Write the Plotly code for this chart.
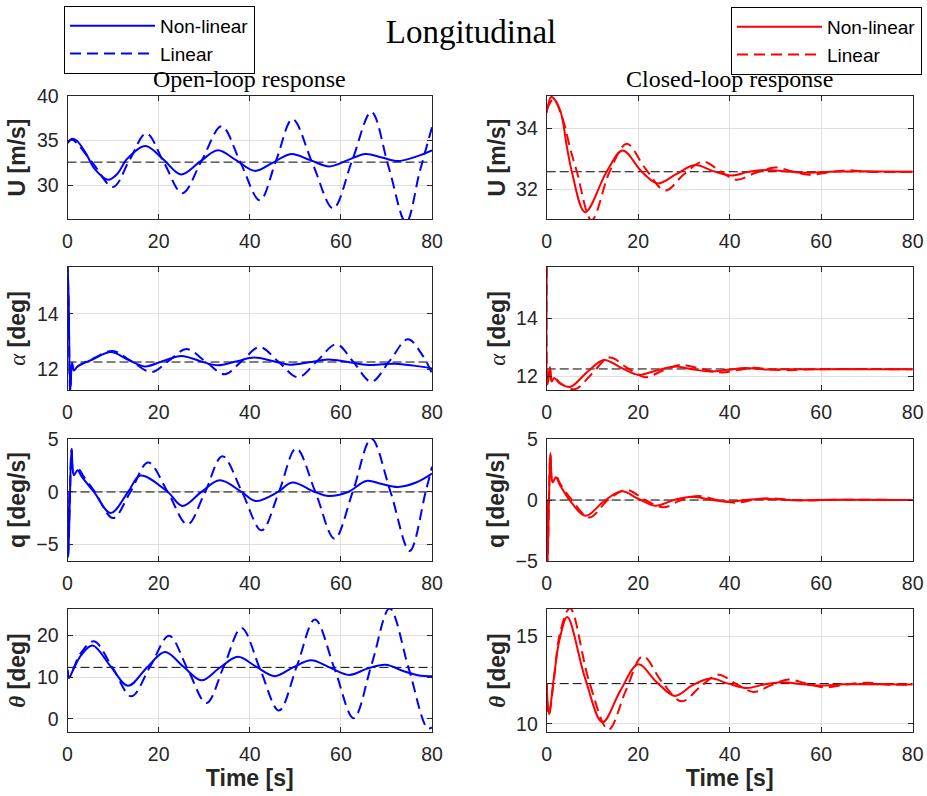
import plotly.graph_objects as go

# ---------------- data ----------------
# Open-loop, U [m/s]
u_ol_nl_t = [0, 1.0, 2, 4, 6, 8.9, 11, 13, 17.1, 21, 24.9, 29, 33, 37, 41.1, 45, 49.1, 53.3, 57.5, 61.5, 65.4, 69, 72.5, 76.5, 80]
u_ol_nl = [34.7, 35.2, 35.0, 33.6, 31.8, 30.6, 31.3, 32.9, 34.4, 32.9, 31.2, 32.6, 33.9, 32.8, 31.6, 32.5, 33.5, 32.8, 32.1, 32.8, 33.5, 33.1, 32.7, 33.2, 33.9]
u_ol_l_t = [0, 1, 5.5, 10, 13.6, 17.3, 21.2, 25.2, 29.5, 33.8, 38, 42.2, 45.8, 49.4, 53.8, 58.3, 62.5, 66.7, 70.5, 74.3, 77.3, 80]
u_ol_l = [34.8, 35.1, 32.5, 29.8, 32.8, 35.8, 32.5, 29.1, 32.8, 36.6, 32.5, 28.3, 32.8, 37.4, 32.4, 27.4, 32.8, 38.2, 32.0, 25.8, 31.5, 36.5]

# Open-loop, alpha [deg]
a_ol_nl_t = [0, 0.25, 0.6, 1.0, 1.4, 2.2, 5.5, 9.5, 13.2, 17, 21, 25, 29, 33, 37, 41, 45, 48.8, 53, 57.2, 61.5, 66, 69, 72, 76, 80]
a_ol_nl = [15.9, 14.5, 11.2, 12.23, 11.95, 12.1, 12.35, 12.62, 12.35, 12.1, 12.3, 12.48, 12.3, 12.14, 12.28, 12.42, 12.3, 12.16, 12.25, 12.35, 12.26, 12.15, 12.18, 12.2, 12.13, 12.03]
a_ol_l_t = [0, 0.25, 0.6, 1.0, 1.4, 2.2, 5.8, 9.9, 14.1, 18.4, 22.2, 26.1, 30.3, 34.5, 38.3, 42.2, 46.4, 50.6, 54.8, 59, 62.8, 66.7, 70.7, 74.7, 78, 80]
a_ol_l = [15.9, 14.3, 11.2, 12.2, 11.95, 12.1, 12.4, 12.66, 12.28, 11.9, 12.3, 12.73, 12.28, 11.82, 12.3, 12.8, 12.25, 11.71, 12.3, 12.9, 12.25, 11.55, 12.3, 13.08, 12.48, 11.85]

# Open-loop, q [deg/s]
q_ol_nl_t = [0, 0.15, 0.5, 0.9, 1.4, 2.2, 3.2, 5.8, 9.5, 13.3, 16, 22, 25.2, 29.4, 33.4, 38.2, 41.3, 46.2, 49.3, 54.3, 57.2, 61.6, 65.6, 69, 72.5, 76.5, 80]
q_ol_nl = [0, -6.2, -1.0, 4.1, 1.6, 2.05, 1.4, 0, -2.0, 0, 1.56, 0, -1.33, 0, 1.1, 0, -0.86, 0, 0.89, 0, -0.38, 0, 1.05, 0.75, 0.48, 0.9, 1.75]
q_ol_l_t = [0, 0.15, 0.5, 0.9, 1.4, 2.5, 3.5, 6.0, 10, 13.8, 17.7, 22, 26.3, 30.2, 34, 38.3, 42.6, 46.4, 50.2, 54.4, 58.6, 62.6, 66.7, 70.9, 75.1, 78.6, 80]
q_ol_l = [0, -6.2, -1.0, 4.0, 1.7, 2.1, 1.5, 0, -2.48, 0, 2.8, 0, -3.08, 0, 3.4, 0, -3.65, 0, 4.13, 0, -4.44, 0, 5.05, 0, -5.6, 0, 2.4]

# Open-loop, theta [deg]
th_ol_nl_t = [0, 0.35, 1.2, 3, 5.5, 9.5, 13.3, 17.4, 21.4, 25.4, 29.4, 33.4, 37.4, 41.5, 45.5, 49.5, 53.5, 57.5, 61.8, 65.8, 69.8, 74, 77.5, 80]
th_ol_nl = [11.7, 9.8, 11.6, 15.2, 17.5, 12.5, 7.9, 12.2, 15.95, 12.5, 9.2, 12.2, 14.8, 12.4, 10.2, 12.3, 14.0, 12.3, 10.5, 12.0, 12.9, 11.3, 10.3, 10.2]
th_ol_l_t = [0, 0.35, 1.2, 3, 5.8, 10, 14, 18.2, 22.3, 26.4, 30.5, 34.4, 38.2, 42.3, 46.4, 50.4, 54.3, 58.6, 62.8, 66.8, 70.7, 74.9, 79, 80]
th_ol_l = [11.7, 9.8, 11.8, 15.8, 18.5, 12.0, 5.4, 12.6, 19.8, 11.8, 3.8, 12.8, 21.7, 11.8, 2.0, 12.8, 23.7, 12.0, 0.2, 13.2, 26.3, 12.0, -2.2, -2.0]

# Closed-loop, U [m/s]
u_cl_nl_t = [0, 1.0, 2.9, 4.4, 5.5, 8.4, 13.1, 16.6, 20.8, 24.3, 28.3, 32.4, 36.4, 40.4, 44.2, 48, 52, 56, 62, 68, 80]
u_cl_nl = [34.5, 35.02, 34.6, 33.4, 32.58, 31.26, 32.58, 33.27, 32.58, 32.2, 32.5, 32.8, 32.6, 32.46, 32.58, 32.64, 32.6, 32.55, 32.58, 32.6, 32.58]
u_cl_l_t = [0, 1.5, 3.5, 5.2, 6.6, 9.8, 13.8, 17.5, 21.5, 25.9, 30, 34.2, 37.9, 41.5, 45.7, 49.9, 53.5, 57.2, 61.5, 66, 70, 80]
u_cl_l = [34.6, 34.95, 34.3, 33.3, 32.58, 31.0, 32.6, 33.49, 32.7, 31.97, 32.5, 32.91, 32.6, 32.32, 32.55, 32.72, 32.6, 32.48, 32.56, 32.63, 32.58, 32.58]

# Closed-loop, alpha [deg]
a_cl_nl_t = [0, 0.2, 0.7, 1.1, 1.6, 3, 5.2, 8.8, 12.5, 16.3, 20, 23.8, 27.7, 31.7, 35.7, 39.5, 43.4, 48, 52, 80]
a_cl_nl = [15.75, 11.72, 12.33, 11.83, 11.95, 11.75, 11.65, 12.15, 12.57, 12.3, 12.06, 12.2, 12.34, 12.25, 12.17, 12.23, 12.29, 12.24, 12.25, 12.25]
a_cl_l_t = [0, 0.2, 0.7, 1.1, 1.7, 3.2, 6.2, 9.9, 13.7, 17.6, 21.5, 25.3, 29.1, 33.6, 38.2, 41.7, 45.2, 49, 53, 58, 80]
a_cl_l = [15.75, 11.75, 12.3, 11.85, 11.95, 11.75, 11.57, 12.1, 12.65, 12.3, 11.98, 12.2, 12.4, 12.27, 12.14, 12.22, 12.3, 12.24, 12.22, 12.25, 12.25]

# Closed-loop, q [deg/s]
q_cl_nl_t = [0, 0.2, 0.5, 0.8, 1.3, 2.0, 2.8, 5.0, 8.5, 12.5, 16.4, 20, 23.7, 27.8, 31.7, 35.5, 39.3, 43.5, 47.4, 52, 56, 62, 80]
q_cl_nl = [0, -5.0, 0, 3.85, 1.45, 1.86, 1.3, 0, -1.3, -0.1, 0.71, 0.1, -0.47, 0, 0.27, 0.05, -0.14, 0, 0.11, 0.02, -0.03, 0.02, 0]
q_cl_l_t = [0, 0.2, 0.5, 0.8, 1.3, 2.1, 3, 5.5, 9.3, 13.4, 17.5, 21.5, 25.5, 29.4, 33.2, 37.3, 41.5, 45, 48.5, 53, 57, 62, 80]
q_cl_l = [0, -5.0, 0, 3.8, 1.5, 1.9, 1.3, 0, -1.43, 0, 0.82, 0, -0.6, 0, 0.33, 0, -0.22, 0, 0.14, 0.02, -0.05, 0.01, 0]

# Closed-loop, theta [deg]
th_cl_nl_t = [0, 0.5, 1.5, 2.8, 4.5, 8.4, 12.2, 16.1, 20, 24, 28, 31.8, 35.7, 39.7, 43.7, 47.5, 51.4, 55.4, 59.4, 65, 70, 80]
th_cl_nl = [12.3, 10.55, 12.5, 14.8, 16.1, 12.6, 10.1, 11.9, 13.4, 12.4, 11.6, 12.2, 12.6, 12.3, 12.05, 12.25, 12.38, 12.28, 12.19, 12.26, 12.27, 12.25]
th_cl_l_t = [0, 0.5, 1.6, 3, 5.1, 9.3, 13.5, 17.3, 21, 25.2, 29.5, 33.5, 37.5, 41.3, 45.2, 49, 52.8, 56.8, 60.8, 65.5, 70, 75, 80]
th_cl_l = [12.3, 10.5, 12.6, 15.3, 16.6, 12.4, 9.68, 11.9, 13.86, 12.4, 11.29, 12.1, 12.81, 12.3, 11.83, 12.2, 12.53, 12.3, 12.09, 12.25, 12.35, 12.24, 12.25]

# trim (reference) values
ref_u = 32.58
ref_alpha = 12.26
ref_q = 0.0
ref_theta = 12.3
t_span = [0, 80]

x_ticks = [0, 20, 40, 60, 80]

ALPHA_LBL = '<span style="font-family:Liberation Serif"><i>α</i></span><b> [deg]</b>'
THETA_LBL = '<span style="font-family:Liberation Serif"><b><i>θ</i></b></span><b> [deg]</b>'

panels = [
    # (row, col, nl_t, nl, l_t, l, ref, yrange, yticks, ylabel)
    (0, 0, u_ol_nl_t, u_ol_nl, u_ol_l_t, u_ol_l, ref_u, [26.2, 40], [30, 35, 40], '<b>U [m/s]</b>'),
    (0, 1, u_cl_nl_t, u_cl_nl, u_cl_l_t, u_cl_l, ref_u, [31.04, 35.05], [32, 34], '<b>U [m/s]</b>'),
    (1, 0, a_ol_nl_t, a_ol_nl, a_ol_l_t, a_ol_l, ref_alpha, [11.25, 15.69], [12, 14], ALPHA_LBL),
    (1, 1, a_cl_nl_t, a_cl_nl, a_cl_l_t, a_cl_l, ref_alpha, [11.54, 15.75], [12, 14], ALPHA_LBL),
    (2, 0, q_ol_nl_t, q_ol_nl, q_ol_l_t, q_ol_l, ref_q, [-6.56, 5.03], [-5, 0, 5], '<b>q [deg/s]</b>'),
    (2, 1, q_cl_nl_t, q_cl_nl, q_cl_l_t, q_cl_l, ref_q, [-5, 5], [-5, 0, 5], '<b>q [deg/s]</b>'),
    (3, 0, th_ol_nl_t, th_ol_nl, th_ol_l_t, th_ol_l, ref_theta, [-3.1, 26.2], [0, 10, 20], THETA_LBL),
    (3, 1, th_cl_nl_t, th_cl_nl, th_cl_l_t, th_cl_l, ref_theta, [9.54, 16.56], [10, 15], THETA_LBL),
]

# ---------------- layout geometry (pixels) ----------------
W, H = 927, 796
col_px = [(67.5, 432.0), (546.7, 912.7)]
row_px = [(96, 219), (267, 390), (439, 561), (609, 732)]

AX_COLOR = '#262626'
GRID = '#dfdfdf'
TICK_FONT = dict(family='Liberation Sans, Arial, sans-serif', size=19.5, color=AX_COLOR)
LABEL_FONT = dict(family='Liberation Sans, Arial, sans-serif', size=23, color=AX_COLOR)
colors = ['#0000ff', '#ff0000']
legend_names = ['legend', 'legend2']

fig = go.Figure()
layout = {}

for (r, c, nl_t, nl, l_t, l, ref, yr, yt, ylab) in panels:
    i = r * 2 + c + 1
    xa = 'x' if i == 1 else f'x{i}'
    ya = 'y' if i == 1 else f'y{i}'
    first = (r == 0)
    col = colors[c]
    fig.add_trace(go.Scatter(x=t_span, y=[ref, ref], mode='lines', xaxis=xa, yaxis=ya,
                             line=dict(color='black', width=1, dash='9px,4px'),
                             showlegend=False, hoverinfo='skip'))
    fig.add_trace(go.Scatter(x=l_t, y=l, mode='lines', xaxis=xa, yaxis=ya, name='Linear',
                             line=dict(color=col, width=2, dash='11px,6px', shape='spline', smoothing=1),
                             showlegend=first, legend=legend_names[c], legendrank=2))
    fig.add_trace(go.Scatter(x=nl_t, y=nl, mode='lines', xaxis=xa, yaxis=ya, name='Non-linear',
                             line=dict(color=col, width=2, shape='spline', smoothing=1),
                             showlegend=first, legend=legend_names[c], legendrank=1))

    x0, x1 = col_px[c]
    y0, y1 = row_px[r]
    xkey = 'xaxis' if i == 1 else f'xaxis{i}'
    ykey = 'yaxis' if i == 1 else f'yaxis{i}'
    layout[xkey] = dict(
        domain=[x0 / W, x1 / W], anchor=ya, range=[0, 80], tickvals=x_ticks, automargin=False,
        showline=True, mirror='ticks', linecolor=AX_COLOR, linewidth=1,
        ticks='inside', ticklen=5, tickcolor=AX_COLOR, tickfont=TICK_FONT,
        showgrid=True, gridcolor=GRID, gridwidth=1, zeroline=False, ticklabelstandoff=5,
        title=dict(text='<b>Time [s]</b>' if r == 3 else '', font=LABEL_FONT, standoff=5),
    )
    layout[ykey] = dict(
        domain=[1 - y1 / H, 1 - y0 / H], anchor=xa, range=yr, tickvals=yt, automargin=False,
        showline=True, mirror='ticks', linecolor=AX_COLOR, linewidth=1,
        ticks='inside', ticklen=5, tickcolor=AX_COLOR, tickfont=TICK_FONT,
        showgrid=True, gridcolor=GRID, gridwidth=1, zeroline=False, ticklabelstandoff=4,
        title=dict(text=ylab, font=LABEL_FONT, standoff=4),
    )

legend_common = dict(bordercolor='black', borderwidth=1, bgcolor='white',
                     font=dict(family='Liberation Sans, Arial, sans-serif', size=19, color='black'),
                     itemwidth=85, tracegroupgap=0, yanchor='top', traceorder='normal')

fig.update_layout(
    width=W, height=H,
    margin=dict(l=0, r=0, t=0, b=0, autoexpand=False),
    paper_bgcolor='white', plot_bgcolor='white',
    title=dict(text='Longitudinal', x=471 / W, xanchor='center', y=1 - 31 / H, yanchor='middle',
               font=dict(family='Liberation Serif, serif', size=33, color='black')),
    legend=dict(x=64 / W, y=1 - 6 / H, xanchor='left', **legend_common),
    legend2=dict(x=922 / W, y=1 - 7 / H, xanchor='right', **legend_common),
    annotations=[
        dict(text='Open-loop response', x=(col_px[0][0] + col_px[0][1]) / 2 / W, y=1 - 79 / H,
             xref='paper', yref='paper', showarrow=False, xanchor='center', yanchor='middle',
             font=dict(family='Liberation Serif, serif', size=24, color='black')),
        dict(text='Closed-loop response', x=(col_px[1][0] + col_px[1][1]) / 2 / W, y=1 - 79 / H,
             xref='paper', yref='paper', showarrow=False, xanchor='center', yanchor='middle',
             font=dict(family='Liberation Serif, serif', size=24, color='black')),
    ],
    **layout,
)

fig.write_html('out.html')
